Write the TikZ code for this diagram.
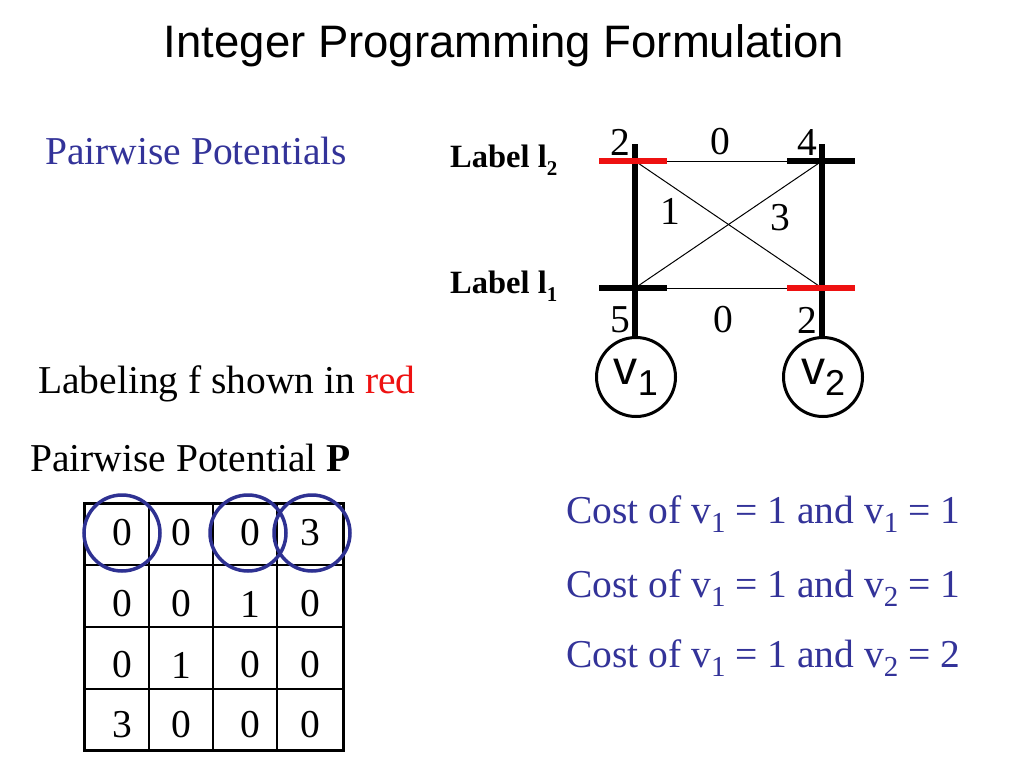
\documentclass[tikz,border=0pt]{standalone}
\usepackage{fontspec}
\setmainfont{Liberation Serif}
\newfontfamily\arialfont{Liberation Sans}
\definecolor{slideblue}{HTML}{333399}
\definecolor{circblue}{HTML}{2E3192}
\definecolor{slidered}{HTML}{EE1111}
\newcommand\mysub[1]{\raisebox{-9pt}{\fontsize{29}{29}\selectfont #1}}
\newcommand\lblsub[1]{\raisebox{-8pt}{\fontsize{21}{21}\selectfont #1}}
\newcommand\vsub[1]{\raisebox{-11pt}{\fontsize{36}{36}\selectfont #1}}
\tikzset{
  txt/.style={inner sep=0pt, anchor=base west, font=\fontsize{39.5}{46}\selectfont},
  num/.style={inner sep=0pt, anchor=center, font=\fontsize{39.5}{46}\selectfont},
  lbl/.style={inner sep=0pt, anchor=base west, font=\fontsize{32.5}{36}\selectfont\bfseries},
  bar/.style={line width=6pt},
  thin/.style={line width=1pt},
  vcirc/.style={circle, draw, line width=3pt, minimum size=79pt, inner sep=0pt,
    font=\arialfont\fontsize{48}{48}\selectfont},
  bcirc/.style={circle, draw=circblue, line width=3.5pt, minimum size=76pt, inner sep=0pt},
}
\begin{document}
\begin{tikzpicture}[x=1pt,y=-1pt]
\useasboundingbox (0,0) rectangle (1024,768);
\fill[white] (0,0) rectangle (1024,768);

% title
\node[inner sep=0pt, anchor=base, font=\arialfont\fontsize{45.5}{50}\selectfont] (title) at (504,57) {Integer Programming Formulation};

% left texts
\node[txt, text=slideblue] (pp) at (45,164) {Pairwise Potentials};
\node[txt] (labeling) at (38,393) {Labeling f shown in \textcolor{slidered}{red}};
\node[txt] (ppP) at (30,471) {Pairwise Potential \textbf{P}};

% cost lines
\node[txt, text=slideblue] (cost1) at (566,523) {Cost of v\mysub{1} = 1 and v\mysub{1} = 1};
\node[txt, text=slideblue] (cost2) at (566,597) {Cost of v\mysub{1} = 1 and v\mysub{2} = 1};
\node[txt, text=slideblue] (cost3) at (566,667) {Cost of v\mysub{1} = 1 and v\mysub{2} = 2};

% graph labels
\node[lbl] (lab2) at (450,167) {Label l\lblsub{2}};
\node[lbl] (lab1) at (450,293) {Label l\lblsub{1}};

% graph coordinates
\coordinate (a2) at (635,161);
\coordinate (a1) at (635,288);
\coordinate (b2) at (822,161);
\coordinate (b1) at (822,288);
\coordinate (atop) at (635,144);
\coordinate (btop) at (822,144);
\coordinate (a2l) at (599,161); \coordinate (a2r) at (667,161);
\coordinate (a1l) at (599,288); \coordinate (a1r) at (667,288);
\coordinate (b2l) at (787,161); \coordinate (b2r) at (855,161);
\coordinate (b1l) at (787,288); \coordinate (b1r) at (855,288);

\node[vcirc] (v1) at (636,377) {v\vsub{1}};
\node[vcirc] (v2) at (823,377) {v\vsub{2}};

% thin connections
\draw[thin] (a2r) -- (b2l);
\draw[thin] (a1r) -- (b1l);
\draw[thin] (a2) -- (b1);
\draw[thin] (a1) -- (b2);

% vertical bars
\draw[bar] (atop) -- (a2 |- v1.north);
\draw[bar] (btop) -- (b2 |- v2.north);

% label segments
\draw[bar] (a1l) -- (a1r);
\draw[bar] (b2l) -- (b2r);
\draw[bar, slidered] (a2l) -- (a2r);
\draw[bar, slidered] (b1l) -- (b1r);

% graph numbers
\node[num] (n2a) at (620,142) {2};
\node[num] (n0a) at (720,142) {0};
\node[num] (n4) at (807,142) {4};
\node[num] (n1) at (670,211) {1};
\node[num] (n3) at (780,218) {3};
\node[num] (n5) at (620,320) {5};
\node[num] (n0b) at (723,320) {0};
\node[num] (n2b) at (807,320) {2};

% matrix grid
\draw[line width=1.5pt] (149,503) -- (149,750) (213,503) -- (213,750) (277,503) -- (277,750);
\draw[line width=1.5pt] (84,565) -- (343,565) (84,627) -- (343,627) (84,689) -- (343,689);
\draw[line width=3pt] (84,503) rectangle (343,750);

% matrix numbers
\foreach \row/\y/\a/\b/\c/\d in {1/533/0/0/0/3, 2/604/0/0/1/0, 3/665/0/1/0/0, 4/725/3/0/0/0}{
  \node[num] (m\row-1) at (122,\y) {\a};
  \node[num] (m\row-2) at (181,\y) {\b};
  \node[num] (m\row-3) at (250,\y) {\c};
  \node[num] (m\row-4) at (310,\y) {\d};
}

% blue circles
\node[bcirc] (c1) at (122,533) {};
\node[bcirc] (c2) at (248,533) {};
\node[bcirc] (c3) at (312,533) {};
\end{tikzpicture}
\end{document}
